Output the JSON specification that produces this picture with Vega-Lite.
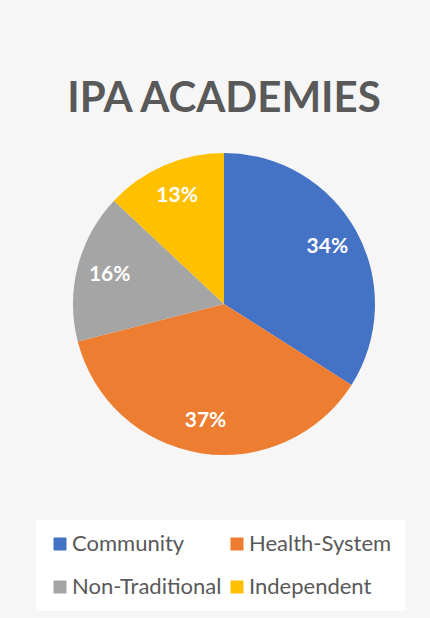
{
  "$schema": "https://vega.github.io/schema/vega-lite/v6.json",
  "width": 412,
  "height": 608,
  "autosize": {"type": "none"},
  "padding": {"left": 18, "top": 0, "right": 0, "bottom": 10},
  "background": "#f6f6f6",
  "config": {"view": {"stroke": null}, "font": "Lato"},
  "title": {
    "text": "IPA ACADEMIES",
    "fontSize": 42,
    "font": "Lato",
    "fontWeight": "bold",
    "color": "#595959",
    "anchor": "middle",
    "baseline": "alphabetic",
    "offset": -154
  },
  "data": {
    "values": [
      {"type": "Community", "share": 0.34, "rank": 1},
      {"type": "Health-System", "share": 0.37, "rank": 2},
      {"type": "Non-Traditional", "share": 0.16, "rank": 3},
      {"type": "Independent", "share": 0.13, "rank": 4}
    ]
  },
  "encoding": {
    "theta": {"field": "share", "type": "quantitative", "stack": true},
    "order": {"field": "rank", "type": "quantitative"}
  },
  "layer": [
    {
      "mark": {"type": "arc", "outerRadius": 151},
      "encoding": {
        "color": {
          "field": "type",
          "type": "nominal",
          "sort": ["Community", "Health-System", "Non-Traditional", "Independent"],
          "scale": {
            "domain": ["Community", "Health-System", "Non-Traditional", "Independent"],
            "range": ["#4472C4", "#ED7D31", "#A5A5A5", "#FFC000"]
          },
          "legend": {
            "title": null,
            "orient": "none",
            "legendX": 18,
            "legendY": 520,
            "direction": "horizontal",
            "columns": 2,
            "symbolType": "square",
            "symbolSize": 169,
            "symbolStrokeWidth": 0,
            "labelFontSize": 22,
            "labelFont": "Lato",
            "labelColor": "#595959",
            "labelOffset": 1,
            "labelLimit": 300,
            "rowPadding": 21,
            "columnPadding": 4,
            "fillColor": "#ffffff",
            "padding": 13
          }
        }
      }
    },
    {
      "mark": {"type": "text", "radius": 118, "fontSize": 21, "fontWeight": "bold", "fill": "#ffffff", "font": "Lato"},
      "encoding": {
        "text": {"field": "share", "type": "quantitative", "format": ".0%"}
      }
    }
  ]
}
